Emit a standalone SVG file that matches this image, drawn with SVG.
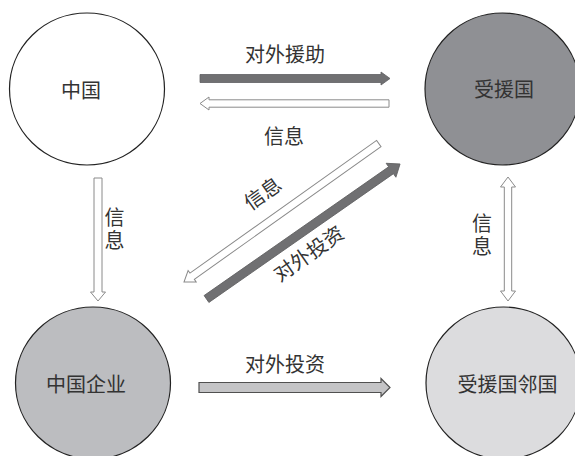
<svg xmlns="http://www.w3.org/2000/svg" width="575" height="456" viewBox="0 0 575 456">
<style>
  .node { stroke: #222; stroke-width: 1.2; }
  .lbl { font-family: "Noto Sans CJK SC", "Noto Sans", sans-serif; font-size: 20px; fill: #333; text-anchor: middle; dominant-baseline: central; }
  .vert { writing-mode: vertical-rl; letter-spacing: 3px; }
  .hollow { fill: #fff; stroke: #8a8a8a; stroke-width: 1; }
  .solid { fill: #707072; stroke: #606062; stroke-width: 0.8; }
  .light { fill: #c4c4c6; stroke: #505050; stroke-width: 1.2; }
</style>
<rect width="575" height="456" fill="#fff"/>
<g id="china">
  <ellipse class="node" cx="87" cy="89" rx="77.5" ry="76" fill="#fff"/>
  <text class="lbl" x="81" y="89">中国</text>
</g>
<g id="recipient">
  <ellipse class="node" cx="502.5" cy="89" rx="77.5" ry="76" fill="#8f9094"/>
  <text class="lbl" x="504" y="88">受援国</text>
</g>
<g id="chinese-firms">
  <ellipse class="node" cx="93" cy="383" rx="77.5" ry="76" fill="#bcbdc0"/>
  <text class="lbl" x="86" y="383">中国企业</text>
</g>
<g id="neighbors">
  <ellipse class="node" cx="503.5" cy="383" rx="77.5" ry="76" fill="#dcdcde"/>
  <text class="lbl" x="507.5" y="383">受援国邻国</text>
</g>
<g id="connectors">
  <polygon class="solid" points="200,74.5 381,74.5 381,72 390,78.5 381,85 381,82.5 200,82.5"/>
  <text class="lbl" x="285" y="53">对外援助</text>
  <polygon class="hollow" points="389,99.8 209,99.8 209,97 200,103.5 209,110 209,107.2 389,107.2"/>
  <text class="lbl" x="284" y="135">信息</text>
  <polygon class="hollow" points="94,178 102,178 102,292 105.5,292 98,301 90.5,292 94,292"/>
  <text class="lbl vert" x="114.5" y="230">信息</text>
  <polygon class="hollow" points="508,177 515.5,187 511.7,187 511.7,291 515.5,291 508,301 500.5,291 504.3,291 504.3,187 500.5,187"/>
  <text class="lbl vert" x="482" y="236">信息</text>
  <polygon class="light" points="199,382.5 381,382.5 381,378.5 390,387.5 381,396.5 381,392.5 199,392.5"/>
  <text class="lbl" x="285" y="363">对外投资</text>
  <g transform="translate(184,282) rotate(-35.4)">
    <polygon class="hollow" points="0,0 10,-7 10,-3.8 239,-3.8 239,3.8 10,3.8 10,7"/>
  </g>
  <g transform="translate(206.5,299) rotate(-34.9)">
    <polygon class="solid" points="0,-4.2 225,-4.2 225,-8.5 236,0 225,8.5 225,4.2 0,4.2"/>
  </g>
  <text class="lbl" x="262" y="192.5" transform="rotate(-35.4 262 192.5)">信息</text>
  <text class="lbl" x="308" y="252.5" transform="rotate(-35 308 252.5)">对外投资</text>
</g>
</svg>
